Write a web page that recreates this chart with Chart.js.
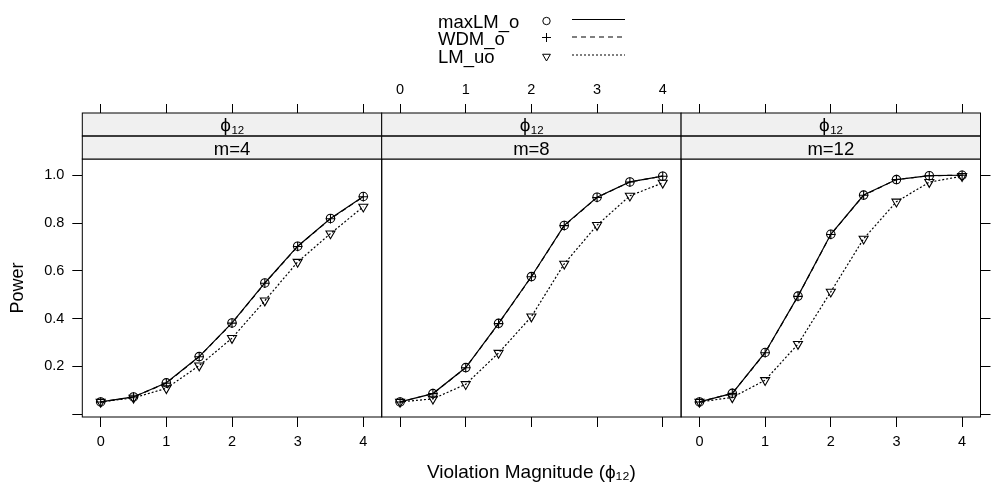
<!DOCTYPE html>
<html>
<head>
<meta charset="utf-8">
<script src="https://cdn.jsdelivr.net/npm/chart.js@4/dist/chart.umd.min.js"></script>
<style>
html, body { margin: 0; padding: 0; background: #fff; }
#wrap { position: relative; width: 991px; height: 486px; }
#wrap canvas { position: absolute; left: 0; top: 0; }
</style>
</head>
<body>
<div id="wrap">
  <canvas id="p1" width="991" height="486"></canvas>
  <canvas id="p2" width="991" height="486"></canvas>
  <canvas id="p3" width="991" height="486"></canvas>
</div>
<script>
// violation magnitude (phi12) on the x axis
const magnitude = [0, 0.5, 1, 1.5, 2, 2.5, 3, 3.5, 4];
const xTicks = [0, 1, 2, 3, 4];
const yTicks = [0, 0.2, 0.4, 0.6, 0.8, 1.0];
const panelLabels = ['m=4', 'm=8', 'm=12'];
const seriesNames = ['maxLM_o', 'WDM_o', 'LM_uo'];

// power, m=4
const maxLM_m4 = [0.051, 0.072, 0.131, 0.241, 0.382, 0.549, 0.703, 0.819, 0.911];
const wdm_m4   = [0.051, 0.072, 0.130, 0.240, 0.381, 0.548, 0.702, 0.818, 0.910];
const lm_m4    = [0.051, 0.068, 0.108, 0.203, 0.318, 0.475, 0.637, 0.756, 0.868];
// power, m=8
const maxLM_m8 = [0.051, 0.086, 0.195, 0.380, 0.576, 0.790, 0.908, 0.972, 0.996];
const wdm_m8   = [0.051, 0.086, 0.194, 0.379, 0.575, 0.789, 0.907, 0.972, 0.996];
const lm_m8    = [0.051, 0.064, 0.125, 0.256, 0.408, 0.629, 0.791, 0.914, 0.968];
// power, m=12
const maxLM_m12 = [0.051, 0.087, 0.258, 0.494, 0.753, 0.917, 0.982, 0.998, 1.000];
const wdm_m12   = [0.051, 0.087, 0.257, 0.493, 0.752, 0.916, 0.982, 0.998, 1.000];
const lm_m12    = [0.051, 0.070, 0.142, 0.293, 0.512, 0.734, 0.889, 0.971, 0.996];

Chart.defaults.font.family = '"Liberation Sans", Arial, Helvetica, sans-serif';
Chart.defaults.color = '#000';

const ink = '#000';
const pointStyles = ['circle', 'cross', 'triangle'];
const pointRot = [0, 0, 180];
const pointSizes = [4.2, 4.8, 5.2];
const dashes = [[], [5, 4], [2, 2]];
const ff = '"Liberation Sans", Arial, sans-serif';

function series(ys, i) {
  return {
    label: seriesNames[i],
    data: magnitude.map((x, k) => ({ x: x, y: ys[k] })),
    borderColor: ink,
    borderWidth: 1.2,
    borderDash: dashes[i],
    backgroundColor: 'transparent',
    pointStyle: pointStyles[i],
    pointRotation: pointRot[i],
    pointRadius: pointSizes[i],
    pointBorderColor: ink,
    pointBorderWidth: 1.1,
    pointBackgroundColor: 'transparent',
    tension: 0
  };
}

// panel frame + two strips above each panel (+ key on the middle one)
const decor = {
  id: 'decor',
  afterDraw(chart, args, opts) {
    const ctx = chart.ctx;
    const a = chart.chartArea;
    ctx.save();
    ctx.strokeStyle = ink;
    ctx.lineWidth = 1;
    ctx.strokeRect(a.left, a.top, a.right - a.left, a.bottom - a.top);
    const s1 = 113, s2 = 136;
    ctx.fillStyle = '#f0f0f0';
    ctx.fillRect(a.left, s1, a.right - a.left, a.top - s1);
    ctx.strokeRect(a.left, s1, a.right - a.left, s2 - s1);
    ctx.strokeRect(a.left, s2, a.right - a.left, a.top - s2);
    const cx = (a.left + a.right) / 2;
    ctx.fillStyle = ink;
    ctx.textBaseline = 'alphabetic';
    // phi with subscript 12
    ctx.font = '19px ' + ff;
    const w1 = ctx.measureText('\u03d5').width;
    ctx.font = '11.5px ' + ff;
    const w2 = ctx.measureText('12').width;
    const x0 = cx - (w1 + w2) / 2;
    ctx.textAlign = 'left';
    ctx.font = '19px ' + ff;
    ctx.fillText('\u03d5', x0, 131);
    ctx.font = '11.5px ' + ff;
    ctx.fillText('12', x0 + w1 + 0.5, 133.5);
    ctx.textAlign = 'center';
    ctx.font = '18.5px ' + ff;
    ctx.fillText(opts.label, cx, 155);

    if (opts.legend) {
      const rows = [21, 38.5, 56.5];
      ctx.font = '18.5px ' + ff;
      ctx.textAlign = 'left';
      seriesNames.forEach((n, i) => {
        ctx.fillStyle = ink;
        ctx.fillText(n, 438, rows[i] + 6.5);
        ctx.fillStyle = 'rgba(0,0,0,0)';
        ctx.strokeStyle = ink;
        ctx.lineWidth = 1;
        Chart.helpers.drawPoint(ctx, {
          pointStyle: pointStyles[i], rotation: pointRot[i],
          radius: i === 0 ? 3.7 : 4.5, borderWidth: 1
        }, 546.5, rows[i] - (i === 1 ? 1 : 0));
        ctx.beginPath();
        ctx.setLineDash(dashes[i]);
        ctx.lineWidth = 1.1;
        ctx.moveTo(572, rows[i] - 1.5);
        ctx.lineTo(625, rows[i] - 1.5);
        ctx.stroke();
        ctx.setLineDash([]);
      });
    }
    ctx.restore();
  }
};

const tickFont = { size: 14.5 };

function xAxis(position, showLabels, extra) {
  const top = position === 'top';
  return Object.assign({
    type: 'linear',
    position: position,
    min: -0.28,
    max: 4.28,
    afterBuildTicks: s => { s.ticks = xTicks.map(v => ({ value: v })); },
    ticks: { display: showLabels, font: tickFont, color: ink, maxRotation: 0, autoSkip: false,
             padding: top ? 5 : 6 },
    grid: { drawOnChartArea: false, color: ink, tickLength: top ? 55 : 10, tickWidth: 1 },
    border: { display: false },
    afterFit: s => { s.height = top ? 80 : 69; }
  }, extra || {});
}

function yAxis(position, showLabels, extra) {
  return Object.assign({
    type: 'linear',
    position: position,
    min: -0.012,
    max: 1.068,
    afterBuildTicks: s => { s.ticks = yTicks.map(v => ({ value: v })); },
    ticks: { display: showLabels, font: tickFont, color: ink, padding: 8,
             callback: v => (v === 0 ? '' : v.toFixed(1)) },
    grid: { drawOnChartArea: false, color: ink, tickLength: 10, tickWidth: 1 },
    border: { display: false },
    afterFit: s => { s.width = position === 'left' ? 82.3 : 10.5; }
  }, extra || {});
}

const hiddenY = { type: 'linear', display: false, min: -0.012, max: 1.068 };

function makePanel(id, sets, idx, pad, scales, legend) {
  return new Chart(document.getElementById(id), {
    type: 'line',
    data: { datasets: sets.map((ys, i) => series(ys, i)) },
    options: {
      responsive: false,
      animation: false,
      layout: { padding: pad },
      plugins: {
        legend: { display: false },
        tooltip: { enabled: false },
        decor: { label: panelLabels[idx], legend: legend }
      },
      scales: scales
    },
    plugins: [decor]
  });
}

makePanel('p1', [maxLM_m4, wdm_m4, lm_m4], 0,
  { left: 0, right: 991 - 381.7, top: 79, bottom: 0 },
  {
    x: xAxis('bottom', true),
    x2: xAxis('top', false),
    y: yAxis('left', true, {
      title: { display: true, text: 'Power', font: { size: 18 }, color: ink, padding: { top: 7, bottom: 0 } }
    })
  }, false);

makePanel('p2', [maxLM_m8, wdm_m8, lm_m8], 1,
  { left: 381.7, right: 991 - 681.1, top: 79, bottom: 0 },
  {
    x: xAxis('bottom', false, {
      title: { display: true, text: 'Violation Magnitude (\u03d5\u2081\u2082)', font: { size: 19 }, color: ink,
               padding: { top: 0, bottom: 2 } }
    }),
    x2: xAxis('top', true),
    y: hiddenY
  }, true);

makePanel('p3', [maxLM_m12, wdm_m12, lm_m12], 2,
  { left: 681.1, right: 0, top: 79, bottom: 0 },
  {
    x: xAxis('bottom', true),
    x2: xAxis('top', false),
    y: yAxis('right', false)
  }, false);
</script>
</body>
</html>
